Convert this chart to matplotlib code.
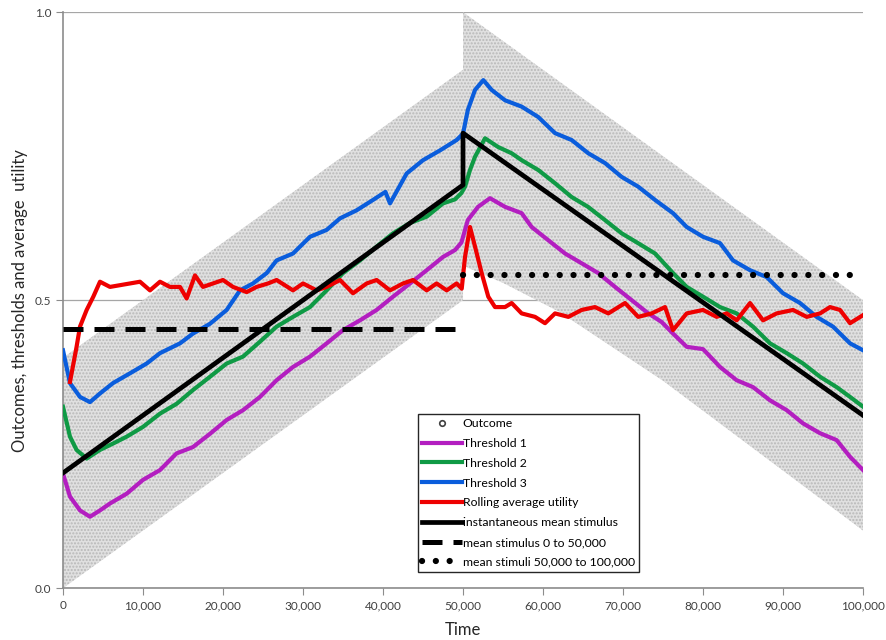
import matplotlib
matplotlib.use("Agg")
import matplotlib.pyplot as plt
from matplotlib.lines import Line2D
from matplotlib.ticker import FuncFormatter, MultipleLocator

plt.rcParams['font.family'] = ['Lato', 'DejaVu Sans']
plt.rcParams['hatch.linewidth'] = 1.0

# Outcome cloud edges
band1_x = [0, 50000]
band1_lo = [0.0, 0.5]
band1_hi = [0.4, 0.9]
band2_x = [50000, 55000, 62000, 75000, 100000]
band2_lo = [0.56, 0.53, 0.48, 0.36, 0.10]
band2_hi = [1.0, 0.95, 0.88, 0.75, 0.50]

# Threshold 1 (magenta)
t1_x = [0, 875, 2125, 3375, 4625, 5875, 7960, 10000, 12125, 14200, 16250, 18375,
        20460, 22500, 24625, 26700, 28750, 30875, 32960, 35000, 37125, 39200,
        41250, 43375, 45460, 47500, 49000, 49800, 50600, 51875, 53375, 55250,
        57330, 58580, 60660, 62750, 64830, 66900, 69000, 71080, 73160, 74830,
        76250, 77960, 80000, 82125, 84200, 86250, 88375, 90460, 92500, 94625,
        96700, 98375, 100000]
t1_y = [0.199, 0.159, 0.135, 0.124, 0.135, 0.147, 0.164, 0.188, 0.205, 0.234,
        0.245, 0.268, 0.292, 0.309, 0.332, 0.361, 0.384, 0.402, 0.425, 0.448,
        0.465, 0.483, 0.506, 0.529, 0.552, 0.575, 0.587, 0.600, 0.639, 0.662,
        0.677, 0.662, 0.651, 0.627, 0.604, 0.581, 0.564, 0.547, 0.523, 0.500,
        0.477, 0.462, 0.442, 0.419, 0.415, 0.384, 0.361, 0.349, 0.326, 0.309,
        0.286, 0.269, 0.257, 0.228, 0.205]

# Threshold 2 (green)
t2_x = [0, 875, 1700, 2960, 4625, 6250, 7960, 10000, 12125, 14200, 16250, 18375,
        20460, 22500, 24625, 26700, 28750, 30875, 32960, 35000, 37125, 39200,
        41250, 43375, 45460, 47500, 49000, 49800, 50250, 50875, 51500, 52750,
        54375, 56080, 57330, 59400, 61500, 63580, 65625, 67750, 69830, 71875,
        74000, 76250, 77960, 80000, 82125, 84200, 86250, 88375, 90460, 92500,
        94625, 96700, 98375, 100000]
t2_y = [0.315, 0.263, 0.240, 0.225, 0.240, 0.251, 0.263, 0.280, 0.303, 0.320,
        0.344, 0.367, 0.390, 0.402, 0.428, 0.454, 0.471, 0.488, 0.517, 0.547,
        0.569, 0.593, 0.616, 0.634, 0.645, 0.668, 0.675, 0.686, 0.697, 0.726,
        0.749, 0.781, 0.766, 0.755, 0.743, 0.726, 0.703, 0.679, 0.662, 0.639,
        0.616, 0.599, 0.581, 0.547, 0.523, 0.506, 0.488, 0.477, 0.454, 0.425,
        0.408, 0.390, 0.367, 0.349, 0.332, 0.315]

# Threshold 3 (blue)
t3_x = [0, 875, 2125, 3375, 4625, 6250, 8375, 10460, 12125, 14625, 16250, 18375,
        20460, 22125, 23750, 25460, 26700, 28750, 30875, 32960, 34625, 36700,
        38750, 40300, 40875, 42960, 45000, 47125, 49200, 50000, 50600, 51500,
        52540, 53580, 55250, 57330, 59400, 61500, 63580, 65660, 67750, 69830,
        71900, 74000, 76250, 77960, 80000, 82125, 83750, 85875, 87960, 90000,
        92125, 94200, 96250, 98375, 100000]
t3_y = [0.413, 0.356, 0.332, 0.323, 0.338, 0.356, 0.373, 0.390, 0.408, 0.425,
        0.442, 0.459, 0.483, 0.517, 0.529, 0.547, 0.569, 0.581, 0.610, 0.622,
        0.642, 0.656, 0.674, 0.688, 0.668, 0.720, 0.743, 0.760, 0.778, 0.789,
        0.830, 0.865, 0.882, 0.865, 0.847, 0.836, 0.818, 0.790, 0.778, 0.755,
        0.738, 0.714, 0.697, 0.674, 0.651, 0.627, 0.610, 0.599, 0.569, 0.552,
        0.540, 0.512, 0.495, 0.471, 0.454, 0.425, 0.413]

# Rolling average utility (red)
ru_x = [875, 1700, 2125, 2960, 3790, 4625, 5875, 7125, 8375, 9625, 10875, 12125,
        13375, 14625, 15460, 16500, 17500, 18750, 20000, 21250, 22960, 24200,
        25625, 26700, 28750, 30000, 31700, 32960, 34625, 36250, 37960, 39200,
        40875, 42500, 43750, 45460, 46700, 47960, 49200, 49840, 50250, 50875,
        51500, 52330, 53160, 54000, 55250, 56080, 57330, 59000, 60250, 61500,
        63160, 64830, 66500, 68160, 70250, 71900, 73580, 75250, 76250, 77960,
        80000, 81700, 82960, 84200, 85875, 87500, 89200, 91250, 92960, 94625,
        95875, 97125, 98375, 100000]
ru_y = [0.358, 0.419, 0.454, 0.483, 0.506, 0.532, 0.523, 0.526, 0.529, 0.532,
        0.517, 0.532, 0.523, 0.523, 0.503, 0.543, 0.523, 0.529, 0.535, 0.523,
        0.514, 0.523, 0.529, 0.535, 0.517, 0.529, 0.517, 0.523, 0.535, 0.512,
        0.529, 0.535, 0.517, 0.529, 0.535, 0.517, 0.529, 0.517, 0.529, 0.520,
        0.575, 0.627, 0.593, 0.547, 0.506, 0.488, 0.488, 0.495, 0.477, 0.471,
        0.460, 0.477, 0.471, 0.483, 0.488, 0.477, 0.495, 0.471, 0.477, 0.488,
        0.448, 0.477, 0.483, 0.471, 0.477, 0.465, 0.495, 0.465, 0.477, 0.483,
        0.471, 0.477, 0.488, 0.483, 0.460, 0.474]

# Instantaneous mean stimulus and period means
stim_x = [0, 50000, 50000, 100000]
stim_y = [0.2, 0.7, 0.79, 0.3]
mean1_x = [0, 50000]
mean1_y = [0.45, 0.45]
mean2_x = [50000, 100000]
mean2_y = [0.543, 0.543]

fig = plt.figure(figsize=(8.87, 6.4), dpi=100)
ax = fig.add_axes([0.071, 0.081, 0.902, 0.9])

grey = '#8c8c8c'
for bx, lo, hi in [(band1_x, band1_lo, band1_hi), (band2_x, band2_lo, band2_hi)]:
    ax.fill_between(bx, lo, hi, facecolor='#e0e0e0', edgecolor='#b8b8b8',
                    hatch='.....', linewidth=0, zorder=1)

ax.plot(t1_x, t1_y, color='#b31ec0', lw=3, zorder=3)
ax.plot(t2_x, t2_y, color='#0f9a45', lw=3, zorder=3)
ax.plot(t3_x, t3_y, color='#0a5ddc', lw=3, zorder=3)
ax.plot(ru_x, ru_y, color='#ee0000', lw=3, zorder=3)
ax.plot(stim_x, stim_y, color='black', lw=3.4, zorder=4)
ax.plot(mean1_x, mean1_y, color='black', lw=3.6, dashes=(4, 2.2),
        solid_capstyle='butt', zorder=4)
ax.plot(mean2_x, mean2_y, color='black', lw=4.5, linestyle=(0, (0.01, 2.2)),
        dash_capstyle='round', zorder=4)

ax.set_xlim(0, 100000)
ax.set_ylim(0, 1.0)
ax.xaxis.set_major_locator(MultipleLocator(10000))
ax.yaxis.set_major_locator(MultipleLocator(0.5))
ax.xaxis.set_major_formatter(FuncFormatter(lambda v, p: f'{int(v):,}'))
ax.yaxis.set_major_formatter(FuncFormatter(lambda v, p: f'{v:.1f}'))
ax.grid(axis='y', color='#a6a6a6', lw=0.9, zorder=0)
ax.set_axisbelow(True)
for s in ['top', 'right']:
    ax.spines[s].set_visible(False)
for s in ['left', 'bottom']:
    ax.spines[s].set_color(grey)
    ax.spines[s].set_linewidth(1.2)
ax.tick_params(direction='out', length=5, color=grey, labelsize=8.5,
               labelcolor='#404040')
ax.set_xlabel('Time', fontsize=12, color='#262626', labelpad=8)
ax.set_ylabel('Outcomes, thresholds and average  utility', fontsize=12,
              color='#262626', labelpad=5)

handles = [
    Line2D([], [], ls='none', marker='o', ms=4, mfc='white', mec='#404040', mew=1.2),
    Line2D([], [], color='#b31ec0', lw=3),
    Line2D([], [], color='#0f9a45', lw=3),
    Line2D([], [], color='#0a5ddc', lw=3),
    Line2D([], [], color='#ee0000', lw=3),
    Line2D([], [], color='black', lw=3.4),
    Line2D([], [], color='black', lw=3.6, dashes=(4, 2.2)),
    Line2D([], [], color='black', lw=4.5, linestyle=(0, (0.01, 2.2)), dash_capstyle='round'),
]
labels = ['Outcome', 'Threshold 1', 'Threshold 2', 'Threshold 3',
          'Rolling average utility', 'instantaneous mean stimulus',
          'mean stimulus 0 to 50,000', 'mean stimuli 50,000 to 100,000']
leg = ax.legend(handles, labels, loc='lower left', bbox_to_anchor=(0.444, 0.028),
                borderaxespad=0, fontsize=8.8, handlelength=3.2, handletextpad=0.1,
                labelspacing=0.72, borderpad=0.35, frameon=True, fancybox=False,
                framealpha=1)
leg.get_frame().set_edgecolor('#262626')
leg.get_frame().set_linewidth(1.0)
leg.set_zorder(6)

fig.savefig('out.png', dpi=100)
